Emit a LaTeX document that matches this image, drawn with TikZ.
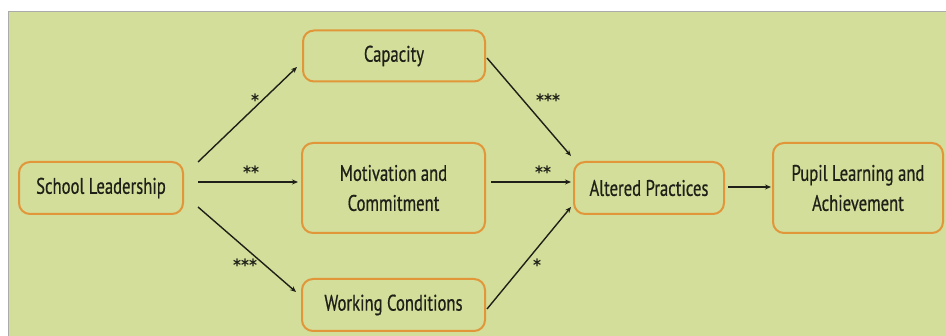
\documentclass[tikz,border=0pt]{standalone}
\usepackage{fontspec}
\setmainfont{PT Sans}[FakeStretch=0.74, FakeBold=0.6]
\newfontfamily\starfont{DejaVu Sans}[FakeStretch=0.9]
\usetikzlibrary{arrows.meta}
\definecolor{panel}{HTML}{D3DE9A}
\definecolor{frameline}{HTML}{ABABAB}
\definecolor{boxline}{HTML}{E2963A}
\definecolor{ink}{HTML}{1F2018}
\tikzset{
  box/.style={draw=boxline, line width=2pt, rounded corners=11pt, fill=panel,
    text=ink, align=center, inner sep=0pt, font=\fontsize{22.5}{30}\selectfont},
  link/.style={draw=ink, line width=1.4pt, -{Stealth[length=6pt,width=5pt]}},
  stars/.style={text=ink, font=\starfont\bfseries\fontsize{17}{17}\selectfont, inner sep=0pt}
}
\begin{document}
\begin{tikzpicture}[x=1pt,y=-1pt]
  \useasboundingbox (0,0) rectangle (946,336);
  \fill[white] (0,0) rectangle (946,336);
  % panel with its frame on the top and left
  \fill[panel] (9,12) rectangle (946,336);
  \draw[frameline, line width=1.5pt] (8.5,336) -- (8.5,11.5) -- (946,11.5);

  % boxes
  \node[box, minimum width=164pt, minimum height=52pt] (lead) at (101,188) {School Leadership};
  \node[box, minimum width=182pt, minimum height=51pt] (cap) at (394,56) {Capacity};
  \node[box, minimum width=183pt, minimum height=90pt] (mot) at (393.5,188) {Motivation and\\Commitment};
  \node[box, minimum width=183pt, minimum height=52pt] (work) at (393.5,305) {Working Conditions};
  \node[box, minimum width=150pt, minimum height=52pt] (alt) at (649,188) {Altered Practices};
  \node[box, minimum width=170pt, minimum height=90pt] (pupil) at (858,188) {Pupil Learning and\\Achievement};

  % end points of the connectors
  \coordinate (l1) at (198,162);
  \coordinate (l2) at (198,182);
  \coordinate (l3) at (198,207);
  \coordinate (c1) at (297,67);
  \coordinate (m1) at (298,182);
  \coordinate (w1) at (296,292);
  \coordinate (c2) at (487,58);
  \coordinate (m2) at (491,182);
  \coordinate (w2) at (487,309);
  \coordinate (a1) at (571,156);
  \coordinate (a2) at (571,182);
  \coordinate (a3) at (571,207);
  \coordinate (a4) at (728,187);
  \coordinate (p1) at (771,187);

  % connectors
  \draw[link] (l1) -- (c1);
  \draw[link] (l2) -- (m1);
  \draw[link] (l3) -- (w1);
  \draw[link] (c2) -- (a1);
  \draw[link] (m2) -- (a2);
  \draw[link] (w2) -- (a3);
  \draw[link] (a4) -- (p1);

  % significance levels
  \node[stars] (s1) at (255,100) {*};
  \node[stars] (s2) at (251,172) {**};
  \node[stars] (s3) at (245,265) {***};
  \node[stars] (s4) at (548,100) {***};
  \node[stars] (s5) at (543,172) {**};
  \node[stars] (s6) at (537,265) {*};
\end{tikzpicture}
\end{document}
